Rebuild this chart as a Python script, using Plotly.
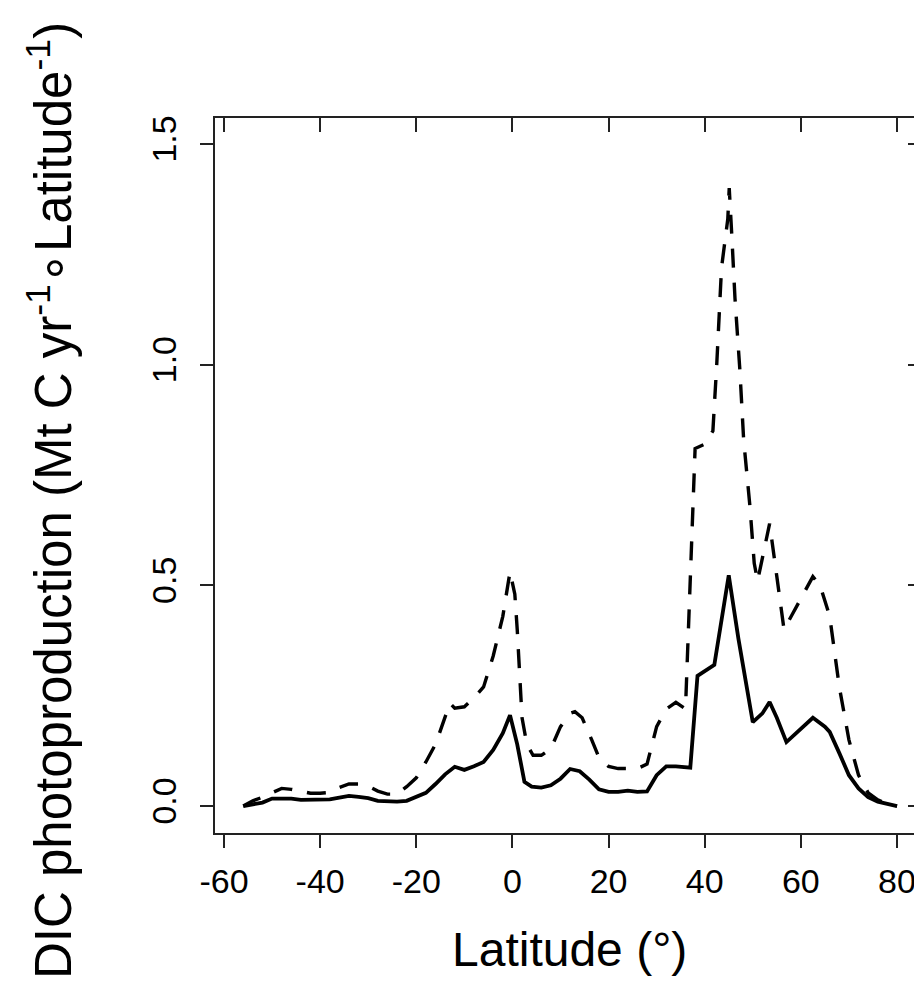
import plotly.graph_objects as go

# Latitude (deg) and DIC photoproduction values
lat_solid = [-56, -54, -52, -50, -48, -46, -44, -42, -40, -38, -36, -34, -32, -30, -28, -26, -24, -22,
             -20, -18, -16, -14, -12, -10, -8, -6, -4, -2, -0.5, 1, 2.5, 4, 6, 8, 10, 12, 14, 16, 18,
             20, 22, 24, 26, 28, 30, 32, 34, 36, 37, 38.5, 40, 42, 45, 47, 50, 52, 53.5, 55, 57, 60,
             62.5, 65, 66, 68, 70, 72, 74, 76, 78, 80]
val_solid = [0.0, 0.004, 0.008, 0.017, 0.018, 0.017, 0.014, 0.014, 0.014, 0.015, 0.019, 0.023, 0.021,
             0.018, 0.012, 0.01, 0.01, 0.012, 0.022, 0.03, 0.05, 0.072, 0.089, 0.082, 0.09, 0.1, 0.127,
             0.165, 0.206, 0.14, 0.055, 0.044, 0.042, 0.047, 0.062, 0.084, 0.079, 0.06, 0.038, 0.032,
             0.032, 0.035, 0.032, 0.033, 0.07, 0.09, 0.09, 0.087, 0.087, 0.295, 0.305, 0.32, 0.523,
             0.38, 0.19, 0.21, 0.236, 0.2, 0.145, 0.175, 0.2, 0.18, 0.168, 0.12, 0.07, 0.04, 0.02,
             0.01, 0.004, 0.0]

lat_dash = [-56, -54, -52, -50, -48, -46, -44, -42, -40, -38, -36, -34, -32, -30, -28, -26, -24, -22,
            -20, -18, -16, -14, -13, -12, -10, -8, -6, -4, -2, -0.5, 0.5, 1, 2, 3, 4.3, 6, 8, 10, 12,
            13, 14.5, 16.5, 18, 20, 22, 24, 26, 28, 30, 32, 34, 36, 37, 38, 40, 41.7, 42.5, 43.5,
            44.8, 45.1, 45.6, 46.3, 47.3, 48.1, 49.4, 50.3, 51, 52, 53.5, 55, 56.5, 58, 60, 62.5, 64,
            66, 68, 70, 72, 74, 76, 78, 80]
val_dash = [0.0, 0.012, 0.02, 0.03, 0.04, 0.038, 0.033, 0.029, 0.029, 0.031, 0.042, 0.05, 0.05, 0.045,
            0.034, 0.027, 0.027, 0.044, 0.064, 0.1, 0.14, 0.2, 0.233, 0.222, 0.225, 0.245, 0.27, 0.34,
            0.43, 0.531, 0.48, 0.4, 0.2, 0.14, 0.115, 0.115, 0.13, 0.18, 0.21, 0.214, 0.2, 0.15, 0.11,
            0.09, 0.085, 0.085, 0.085, 0.095, 0.18, 0.22, 0.235, 0.22, 0.5, 0.81, 0.82, 0.85, 1.0,
            1.22, 1.33, 1.40, 1.30, 1.15, 0.99, 0.83, 0.68, 0.55, 0.51, 0.56, 0.64, 0.52, 0.4, 0.43,
            0.47, 0.52, 0.5, 0.43, 0.27, 0.15, 0.07, 0.03, 0.014, 0.005, 0.0]

x_ticks = [-60, -40, -20, 0, 20, 40, 60, 80]
x_tick_text = ["-60", "-40", "-20", "0", "20", "40", "60", "80"]
y_ticks = [0.0, 0.5, 1.0, 1.5]
y_tick_text = ["0.0", "0.5", "1.0", "1.5"]

FONT = "Liberation Sans, Arial, sans-serif"

fig = go.Figure()
fig.add_trace(go.Scatter(x=lat_dash, y=val_dash, mode="lines",
                         line=dict(color="black", width=3.4, dash="19px,15px"), showlegend=False))
fig.add_trace(go.Scatter(x=lat_solid, y=val_solid, mode="lines",
                         line=dict(color="black", width=3.8), showlegend=False))
# invisible trace to activate the mirrored tick axes
fig.add_trace(go.Scatter(x=[x_ticks[0]], y=[y_ticks[0]], xaxis="x2", yaxis="y2", mode="markers",
                         marker=dict(opacity=0), showlegend=False, hoverinfo="skip"))

xr = [-61.87, 85.2]
yr = [-0.061, 1.559]

fig.update_layout(
    width=914, height=970,
    margin=dict(l=207, r=0, t=110, b=145, autoexpand=False),
    paper_bgcolor="white", plot_bgcolor="white",
    font=dict(family=FONT, color="black"),
    xaxis=dict(range=xr, tickvals=x_ticks, ticktext=x_tick_text, ticks="outside", ticklen=13,
               tickwidth=2, tickcolor="#222", showline=True, linecolor="#222", linewidth=2,
               mirror=True, showgrid=False, zeroline=False, tickfont=dict(size=34, family=FONT),
               ticklabelstandoff=4, automargin=False),
    yaxis=dict(range=yr, tickvals=y_ticks, ticktext=y_tick_text, ticks="outside", ticklen=13,
               tickwidth=2, tickcolor="#222", showline=True, linecolor="#222", linewidth=2,
               mirror=True, showgrid=False, zeroline=False, tickangle=-90,
               tickfont=dict(size=34, family=FONT), ticklabelstandoff=10, automargin=False),
    xaxis2=dict(range=xr, overlaying="x", side="top", tickvals=x_ticks, ticks="inside",
                ticklen=14, tickwidth=2, tickcolor="#222", showticklabels=False,
                showline=False, showgrid=False, zeroline=False, automargin=False),
    yaxis2=dict(range=yr, overlaying="y", side="right", tickvals=y_ticks, ticks="inside",
                ticklen=14, tickwidth=2, tickcolor="#222", showticklabels=False,
                showline=False, showgrid=False, zeroline=False, anchor="x2", automargin=False),
    annotations=[
        dict(text="Latitude (°)", xref="paper", yref="paper", x=0.502, y=-0.1636,
             xanchor="center", yanchor="middle", showarrow=False,
             font=dict(size=48, family=FONT)),
        dict(text="DIC photoproduction (Mt C yr<sup>-1</sup>∘Latitude<sup>-1</sup>)",
             xref="paper", yref="paper", x=-0.2334, y=0.4657, xanchor="center", yanchor="middle",
             textangle=-90, showarrow=False, font=dict(size=51, family=FONT)),
    ],
)

fig.write_html("out.html")
